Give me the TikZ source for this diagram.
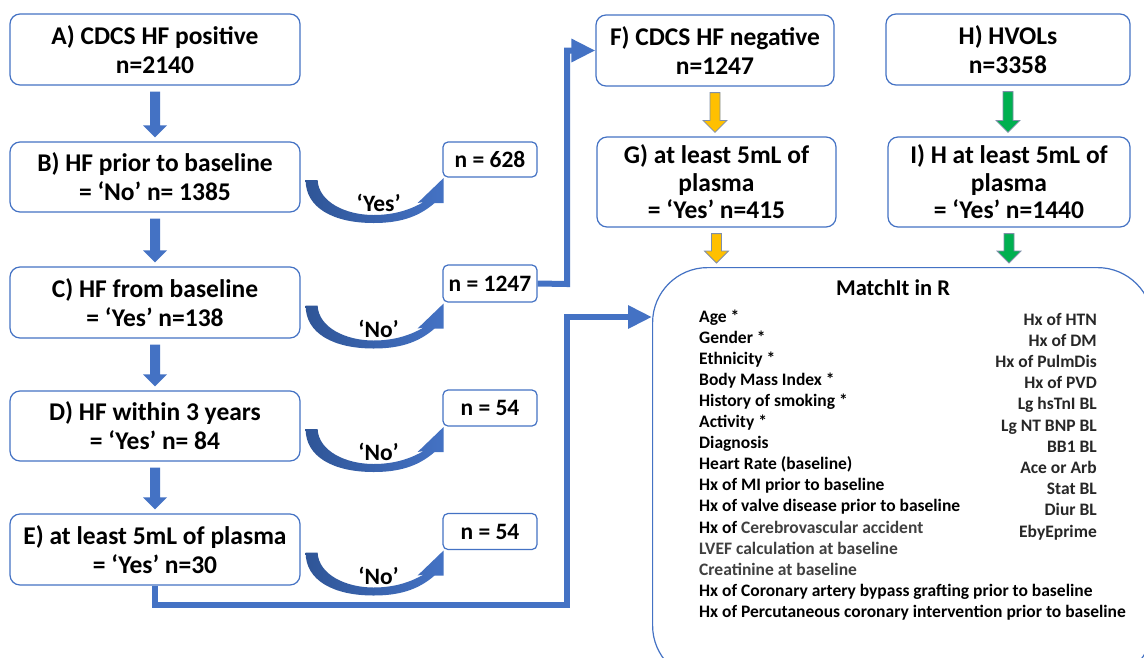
\documentclass[tikz,border=0pt]{standalone}
\usepackage{fontspec}
\setmainfont{Carlito}
\usetikzlibrary{arrows.meta,calc}
\definecolor{cblue}{HTML}{4472C4}
\definecolor{cdblue}{HTML}{2F5597}
\definecolor{cyel}{HTML}{FFC000}
\definecolor{cgreen}{HTML}{00B050}
\definecolor{outl}{HTML}{7F8FA9}
\definecolor{gtext}{HTML}{404040}
\newcommand\blockdown[3]{%
 \path[#3] let \p1=($(#1.south)+(0,6)$), \p2=($(#2.north)+(0,-4)$) in
 (\x1-5pt,\y1) -- (\x1+5pt,\y1) -- (\x1+5pt,\y2+12pt) -- (\x1+12pt,\y2+12pt) -- (\x1,\y2) -- (\x1-12pt,\y2+12pt) -- (\x1-5pt,\y2+12pt) -- cycle;}
\newcommand\curvarr[3]{%
 \begin{scope}[shift={($(#1.east)+(5,3)$)}]
 \shade[left color=cdblue, right color=cblue] (0,0) -- (12,0) .. controls (13,22) and (40,35) .. (68,35) .. controls (90,35) and (106,29) .. (118,22) -- (112,23) -- (138,-2) -- (138,23) -- (129,23) .. controls (112,38) and (92,43) .. (68,43) .. controls (28,43) and (0,28) .. (0,0) -- cycle;
 \node[lab] (#3) at (73,23) {#2};
 \end{scope}}
\begin{document}
\begin{tikzpicture}[x=1pt,y=-1pt,
 mainbox/.style={draw=cblue, line width=1.2pt, rounded corners=10pt, fill=white, align=center, font=\bfseries\fontsize{25.5}{29}\selectfont, inner sep=0pt},
 nbox/.style={draw=cblue, line width=1.2pt, rounded corners=5pt, fill=white, font=\bfseries\fontsize{23.5}{26}\selectfont, inner sep=0pt, minimum width=94pt},
 lab/.style={font=\bfseries\fontsize{23.5}{26}\selectfont},
 conn/.style={cblue, line width=6pt, line join=miter},
 bluearr/.style={fill=cblue},
 yelarr/.style={fill=cyel, draw=outl, line width=0.8pt},
 grnarr/.style={fill=cgreen, draw=outl, line width=0.8pt},
 litem/.style={font=\bfseries\fontsize{17.5}{20}\selectfont, inner sep=0pt}]
\useasboundingbox (0,0) rectangle (1144,657);
\fill[white] (0,0) rectangle (1144,657);
\clip (0,0) rectangle (1144,657);

% left column
\node[mainbox, minimum width=290pt, minimum height=71pt] (A) at (155,49.5) {A) CDCS HF positive\\n=2140};
\node[mainbox, minimum width=290pt, minimum height=70pt] (B) at (155,177) {B) HF prior to baseline\\= ‘No’ n= 1385};
\node[mainbox, minimum width=290pt, minimum height=71pt] (C) at (155,302.5) {C) HF from baseline\\= ‘Yes’ n=138};
\node[mainbox, minimum width=290pt, minimum height=70pt] (D) at (155,426) {D) HF within 3 years\\= ‘Yes’ n= 84};
\node[mainbox, minimum width=290pt, minimum height=71pt] (E) at (155,549.5) {E) at least 5mL of plasma\\= ‘Yes’ n=30};

\blockdown{A}{B}{bluearr}
\blockdown{B}{C}{bluearr}
\blockdown{C}{D}{bluearr}
\blockdown{D}{E}{bluearr}

% side boxes
\node[nbox, minimum height=35pt] (n628) at (490,159.5) {n = 628};
\node[nbox, minimum height=37pt] (n1247) at (490,283.5) {n = 1247};
\node[nbox, minimum height=36pt] (n54a) at (490,408) {n = 54};
\node[nbox, minimum height=36pt] (n54b) at (490,531.5) {n = 54};

\curvarr{B}{‘Yes’}{ly}
\curvarr{C}{‘No’}{lc}
\curvarr{D}{‘No’}{ld}
\curvarr{E}{‘No’}{le}

% right top
\node[mainbox, minimum width=238pt, minimum height=71pt] (F) at (715,50.5) {F) CDCS HF negative\\n=1247};
\node[mainbox, minimum width=244pt, minimum height=71pt] (H) at (1008,49.5) {H) HVOLs\\n=3358};
\node[mainbox, minimum width=239pt, minimum height=90pt, font=\bfseries\fontsize{25.5}{27.5}\selectfont] (G) at (716.5,182) {G) at least 5mL of\\plasma\\= ‘Yes’ n=415};
\node[mainbox, minimum width=242pt, minimum height=90pt, font=\bfseries\fontsize{25.5}{27.5}\selectfont] (I) at (1009,182) {I) H at least 5mL of\\plasma\\= ‘Yes’ n=1440};

% MatchIt box
\node[draw=cblue, line width=1.2pt, rounded corners=55pt, minimum width=500pt, minimum height=413pt, inner sep=0pt, anchor=north west] (M) at (652,267) {};
\node[font=\bfseries\fontsize{22.5}{24}\selectfont] (MT) at (893,288) {MatchIt in R};

\blockdown{F}{G}{yelarr}
\blockdown{H}{I}{grnarr}
\coordinate (gm) at (G.south |- M.north);
\coordinate (im) at (I.south |- M.north);
\blockdown{G}{gm}{yelarr}
\blockdown{I}{im}{grnarr}

\foreach \t [count=\i] in {Age *, Gender *, Ethnicity *, Body Mass Index *, History of smoking *, Activity *, Diagnosis, Heart Rate (baseline), Hx of MI prior to baseline, Hx of valve disease prior to baseline, Hx of {\color{gtext}Cerebrovascular accident}, {\color{gtext}LVEF calculation at baseline}, {\color{gtext}Creatinine at baseline}, Hx of Coronary artery bypass grafting prior to baseline, Hx of Percutaneous coronary intervention prior to baseline}
 \node[litem, anchor=base west] (L\i) at (699,{322+21.1*(\i-1)}) {\t};

\foreach \t [count=\i] in {Hx of HTN, Hx of DM, Hx of PulmDis, Hx of PVD, Lg hsTnI BL, Lg NT BNP BL, BB1 BL, Ace or Arb, Stat BL, Diur BL, EbyEprime}
 \node[litem, anchor=base east, text=gtext!60!black] (R\i) at (1097,{325+21.2*(\i-1)}) {\t};

% connectors
\coordinate (j0) at (567,284);
\draw[conn, -{Triangle[length=24pt,width=22pt]}] (n1247.east) -- (j0) |- (F.west);
\coordinate (j1) at (567,605);
\coordinate (j2) at (567,317);
\draw[conn, -{Triangle[length=24pt,width=22pt]}] (E.south) |- (j1) -- (j2) -- (j2 -| M.west);
\end{tikzpicture}
\end{document}
